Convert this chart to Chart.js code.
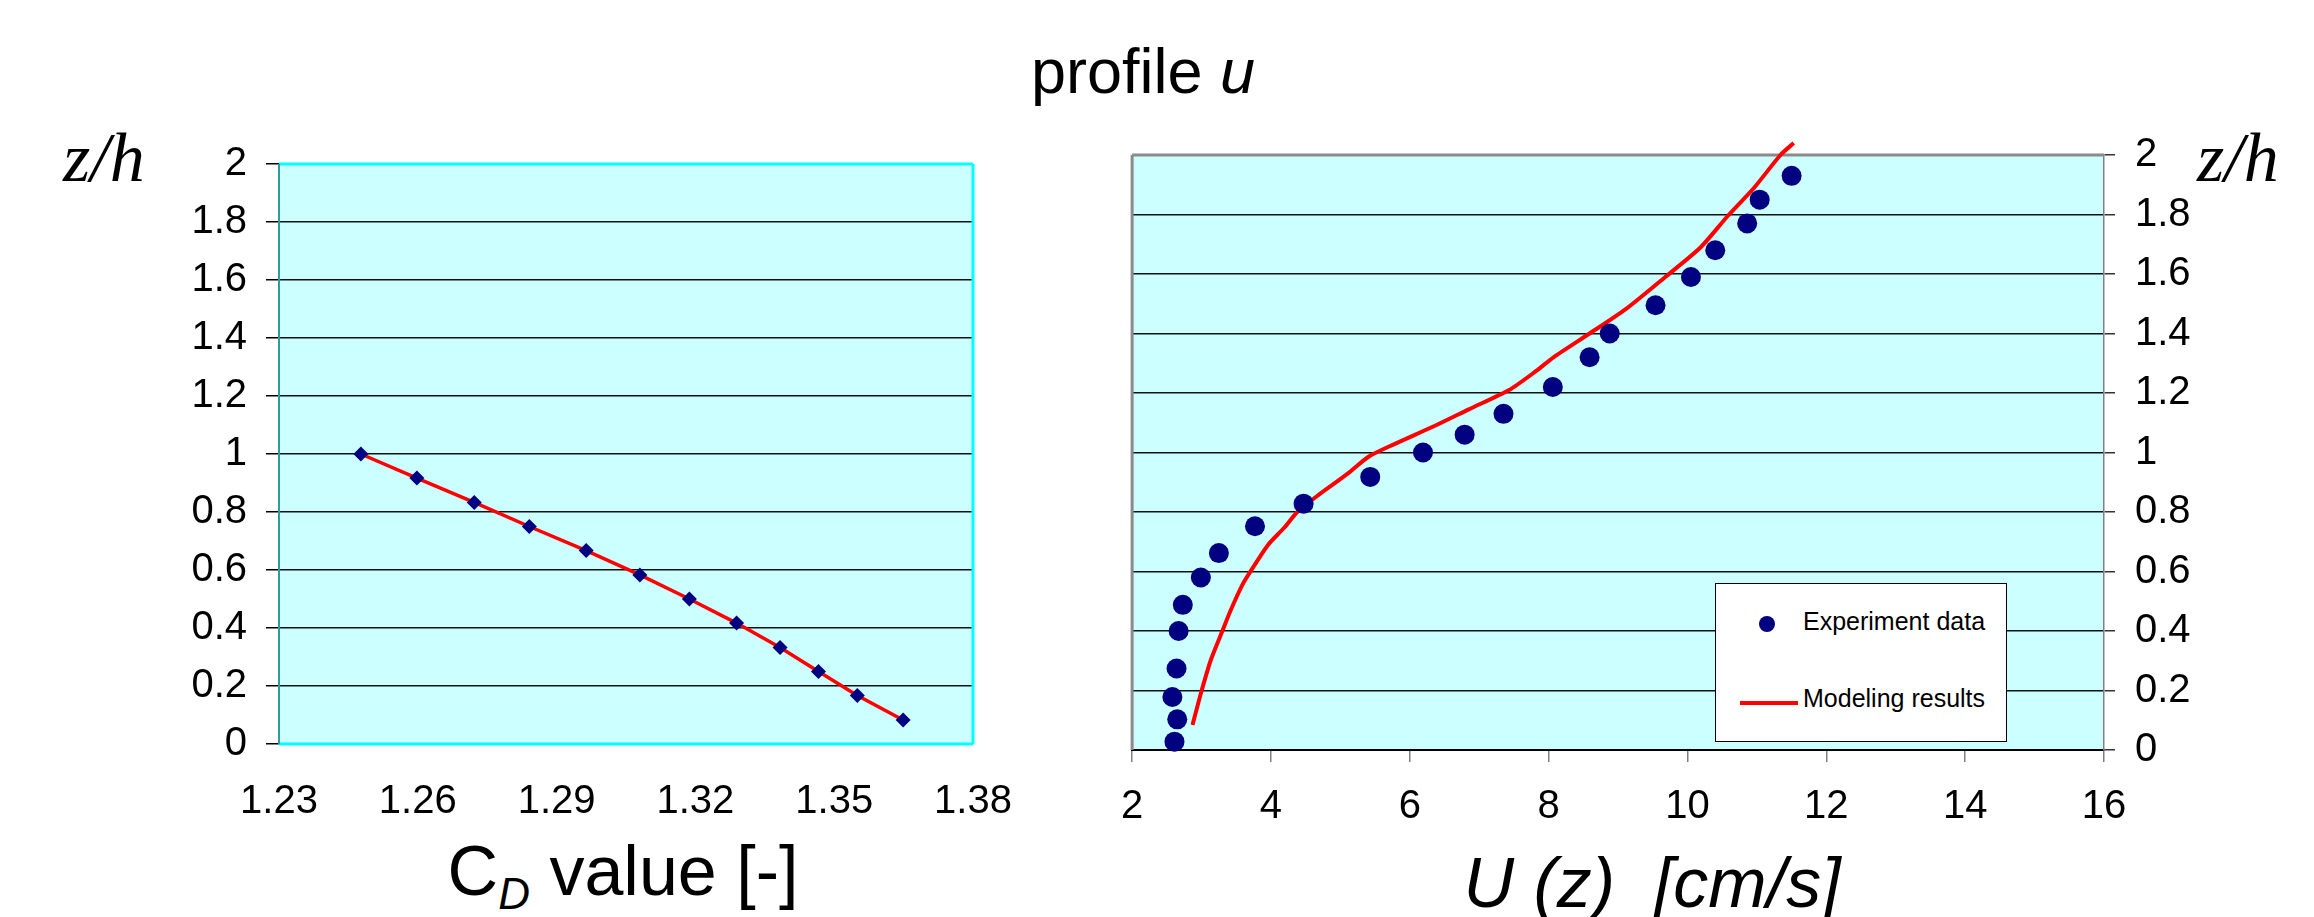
<!DOCTYPE html>
<html>
<head>
<meta charset="utf-8">
<title>profile u</title>
<script src="https://cdn.jsdelivr.net/npm/chart.js@4.4.1/dist/chart.umd.min.js"></script>
<style>
  body { margin: 0; background: #fff; width: 2314px; height: 917px; position: relative; overflow: hidden;
         font-family: "Liberation Sans", Arial, sans-serif; color: #000; }
  .abs { position: absolute; white-space: pre; line-height: 1; }
  #leftBox { position: absolute; left: 0; top: 0; width: 1100px; height: 917px; }
  #rightBox { position: absolute; left: 1100px; top: 0; width: 1214px; height: 917px; }
  .title { font-size: 63px; left: 1143px; top: 40px; transform: translateX(-50%); }
  .zh { font-family: "Liberation Serif", "Times New Roman", serif; font-style: italic; font-size: 70px; top: 123px; }
  .xt { font-size: 70px; transform: translateX(-50%); }
  .xt sub { font-size: 44px; font-style: italic; vertical-align: -14px; line-height: 0; }
  #legend { position: absolute; left: 1715px; top: 583px; width: 290px; height: 157px;
            border: 1.5px solid #000; background: #fff; }
  #legend .item { position: absolute; left: 87px; font-size: 25px; line-height: 1; }
  #legend .dot { position: absolute; left: 43px; top: 32px; width: 16px; height: 16px; border-radius: 50%; }
  #legend .line { position: absolute; left: 24px; top: 117px; width: 58px; height: 4px; }
</style>
</head>
<body>
<div class="abs title">profile <i>u</i></div>
<div class="abs zh" style="left:63px">z/h</div>
<div class="abs zh" style="left:2197px">z/h</div>
<div class="abs xt" style="left:623px; top:836px">C<sub>D</sub> value [-]</div>
<div class="abs xt" style="left:1652px; top:848px; font-style:italic">U (z)  [cm/s]</div>

<div id="leftBox"><canvas id="cdChart" width="1100" height="917"></canvas></div>
<div id="rightBox"><canvas id="uChart" width="1214" height="917"></canvas></div>
<div id="legend"></div>

<script>
// left panel: drag coefficient vs relative height
const CD_VALUES  = [1.2477, 1.2598, 1.2722, 1.2841, 1.2964, 1.3080, 1.3187, 1.3289, 1.3383, 1.3466, 1.3550, 1.3649];
const CD_HEIGHTS = [1.000, 0.917, 0.833, 0.750, 0.667, 0.583, 0.500, 0.417, 0.333, 0.250, 0.167, 0.083];
const CD_TICKS   = [1.23, 1.26, 1.29, 1.32, 1.35, 1.38];

// right panel: measured velocity profile
const EXP_U = [2.61, 2.65, 2.58, 2.64, 2.67, 2.73, 2.99, 3.25, 3.77, 4.47, 5.43, 6.19, 6.79, 7.35, 8.06, 8.59, 8.88, 9.54, 10.05, 10.40, 10.86, 11.04, 11.50];
const EXP_Z = [0.028, 0.103, 0.178, 0.274, 0.40, 0.488, 0.58, 0.662, 0.752, 0.828, 0.918, 1.00, 1.06, 1.13, 1.22, 1.32, 1.40, 1.495, 1.59, 1.68, 1.77, 1.85, 1.93];

// right panel: model output
const MODEL_U = [2.87, 2.99, 3.13, 3.30, 3.42, 3.59, 3.74, 3.96, 4.19, 4.38, 4.66, 5.11, 5.40, 5.70, 6.40, 6.85, 7.43, 7.82, 8.07, 8.59, 9.10, 9.68, 10.19, 10.58, 10.96, 11.34, 11.53];
const MODEL_Z = [0.084, 0.19, 0.30, 0.40, 0.47, 0.556, 0.613, 0.69, 0.747, 0.80, 0.853, 0.93, 0.985, 1.02, 1.094, 1.145, 1.21, 1.274, 1.32, 1.40, 1.48, 1.59, 1.69, 1.795, 1.89, 2.00, 2.04];

const U_TICKS = [2, 4, 6, 8, 10, 12, 14, 16];
const Z_TICKS = [0, 0.2, 0.4, 0.6, 0.8, 1, 1.2, 1.4, 1.6, 1.8, 2];

const NAVY = '#000080';
const RED = '#FF0000';
const TICK_FONT = { family: 'Liberation Sans', size: 40 };

function pairs(xs, ys) {
  return xs.map((x, i) => ({ x: x, y: ys[i] }));
}
function fixedTicks(list) {
  return (scale) => { scale.ticks = list.map((v) => ({ value: v })); };
}

// plot background + frame, drawn under the data
const plotFrame = {
  id: 'plotFrame',
  beforeDraw(chart, args, opts) {
    const a = chart.chartArea, ctx = chart.ctx;
    ctx.save();
    ctx.fillStyle = opts.fill;
    ctx.fillRect(a.left, a.top, a.right - a.left, a.bottom - a.top);
    ctx.restore();
  },
  beforeDatasetsDraw(chart, args, opts) {
    const a = chart.chartArea, ctx = chart.ctx;
    ctx.save();
    opts.sides.forEach((s) => {
      ctx.strokeStyle = s.color;
      ctx.lineWidth = s.width;
      ctx.beginPath();
      if (s.side === 'left') { ctx.moveTo(a.left, a.top); ctx.lineTo(a.left, a.bottom); }
      if (s.side === 'right') { ctx.moveTo(a.right, a.top); ctx.lineTo(a.right, a.bottom); }
      if (s.side === 'top') { ctx.moveTo(a.left, a.top); ctx.lineTo(a.right, a.top); }
      if (s.side === 'bottom') { ctx.moveTo(a.left, a.bottom); ctx.lineTo(a.right, a.bottom); }
      ctx.stroke();
    });
    ctx.restore();
  },
};

const gridColor = (ctx) => (ctx.tick.value === 0 || ctx.tick.value === 2) ? 'rgba(0,0,0,0)' : '#111';

new Chart(document.getElementById('cdChart'), {
  type: 'scatter',
  data: {
    datasets: [{
      label: 'CD',
      data: pairs(CD_VALUES, CD_HEIGHTS),
      showLine: true,
      borderColor: RED,
      borderWidth: 3.5,
      pointStyle: 'rectRot',
      pointRadius: 7.5,
      pointBorderWidth: 0,
      pointBackgroundColor: NAVY,
      clip: false,
    }],
  },
  options: {
    responsive: false,
    animation: false,
    devicePixelRatio: 1,
    layout: { padding: { top: 164, right: 127, left: 0, bottom: 0 } },
    plugins: {
      legend: { display: false },
      tooltip: { enabled: false },
      plotFrame: { fill: '#CCFFFF', sides: [
        { side: 'top', color: '#00FFFF', width: 3 },
        { side: 'right', color: '#00FFFF', width: 3 },
        { side: 'bottom', color: '#00FFFF', width: 3 },
        { side: 'left', color: '#2E9C9C', width: 2 },
      ] },
    },
    scales: {
      x: {
        type: 'linear', min: 1.23, max: 1.38,
        afterBuildTicks: fixedTicks(CD_TICKS),
        afterFit: (s) => { s.height = 173; },
        grid: { display: false, drawTicks: false },
        border: { display: false },
        ticks: { font: TICK_FONT, color: '#000', padding: 34, maxRotation: 0, callback: (v) => v.toFixed(2) },
      },
      y: {
        type: 'linear', min: 0, max: 2,
        afterBuildTicks: fixedTicks(Z_TICKS),
        afterFit: (s) => { s.width = 279; },
        grid: { color: gridColor, lineWidth: 1.5, tickColor: '#000', tickLength: 13 },
        border: { display: false },
        ticks: { font: TICK_FONT, color: '#000', padding: 19, callback: (v) => String(v) },
      },
    },
  },
  plugins: [plotFrame],
});

const uChart = new Chart(document.getElementById('uChart'), {
  type: 'scatter',
  data: {
    datasets: [
      {
        label: 'Experiment data',
        data: pairs(EXP_U, EXP_Z),
        pointStyle: 'circle',
        pointRadius: 10,
        pointBorderWidth: 0,
        pointBackgroundColor: NAVY,
        clip: false,
        order: 1,
      },
      {
        label: 'Modeling results',
        data: pairs(MODEL_U, MODEL_Z),
        showLine: true,
        borderColor: RED,
        borderWidth: 4,
        tension: 0.25,
        pointRadius: 0,
        clip: false,
        order: 2,
      },
    ],
  },
  options: {
    responsive: false,
    animation: false,
    devicePixelRatio: 1,
    layout: { padding: { top: 155, right: 0, left: 31, bottom: 0 } },
    plugins: {
      legend: { display: false },
      tooltip: { enabled: false },
      plotFrame: { fill: '#CCFFFF', sides: [
        { side: 'top', color: '#8A8A8A', width: 3 },
        { side: 'left', color: '#8A8A8A', width: 3 },
      ] },
    },
    scales: {
      x: {
        type: 'linear', min: 2, max: 16,
        afterBuildTicks: fixedTicks(U_TICKS),
        afterFit: (s) => { s.height = 167; },
        grid: { drawOnChartArea: false, color: '#808080', lineWidth: 1.5, tickLength: 12 },
        border: { color: '#000', width: 2 },
        ticks: { font: TICK_FONT, color: '#000', padding: 21, maxRotation: 0 },
      },
      y: {
        type: 'linear', position: 'right', min: 0, max: 2,
        afterBuildTicks: fixedTicks(Z_TICKS),
        afterFit: (s) => { s.width = 210; },
        grid: { color: gridColor, lineWidth: 1.5, tickColor: '#333', tickLength: 11 },
        border: { color: '#808080', width: 1.5 },
        ticks: { font: TICK_FONT, color: '#000', padding: 20, callback: (v) => String(v) },
      },
    },
  },
  plugins: [plotFrame],
});

// legend box inside the right plot, built from the dataset styles
(function buildLegend() {
  const box = document.getElementById('legend');
  const [exp, model] = uChart.data.datasets;
  box.innerHTML =
    `<span class="dot" style="background:${exp.pointBackgroundColor}"></span>` +
    `<span class="item" style="top:25px">${exp.label}</span>` +
    `<span class="line" style="background:${model.borderColor}"></span>` +
    `<span class="item" style="top:102px">${model.label}</span>`;
})();
</script>
</body>
</html>
